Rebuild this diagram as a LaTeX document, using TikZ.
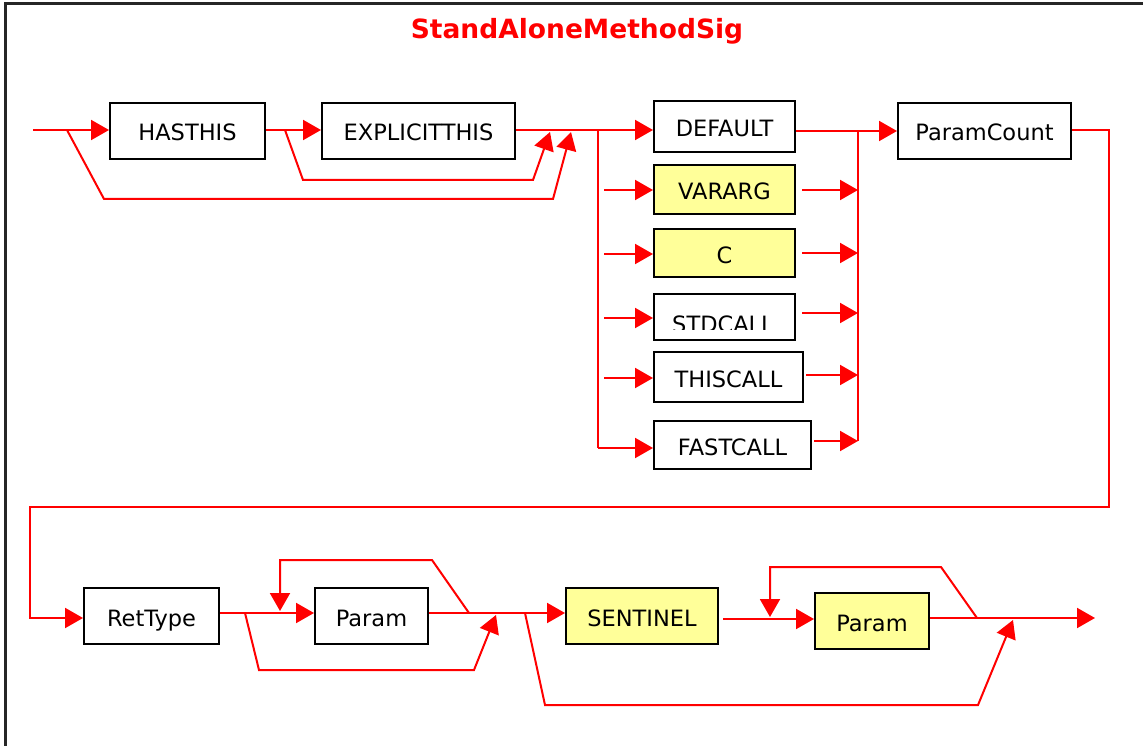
\documentclass[tikz,border=0pt]{standalone}
\usepackage{fontspec}
\setmainfont{DejaVu Sans}
\usetikzlibrary{arrows.meta}
\definecolor{symfill}{RGB}{255,255,153}
\tikzset{
  sym/.style={draw,line width=2pt,inner sep=0pt,text height=20pt,text depth=0pt,
    font=\fontsize{22.5}{27}\selectfont},
  opt/.style={sym,fill=symfill},
  flow/.style={draw=red,line width=2pt,line join=miter},
  tip/.style={-{Triangle[length=18pt,width=20pt]}},
}
\begin{document}
\begin{tikzpicture}[x=1pt,y=-1pt]
  \useasboundingbox (0,0) rectangle (1143,746);
  \draw[line width=3pt,black!85] (5,746) -- (5,4) -- (1143,4);
  \node[text=red,font=\bfseries\fontsize{26.5}{32}\selectfont] (title) at (577,31) {StandAloneMethodSig};

  \node[sym,minimum width=155pt,minimum height=56pt] (hasthis) at (187.5,131) {HASTHIS};
  \node[sym,minimum width=193pt,minimum height=56pt] (explicit) at (418.5,131) {EXPLICITTHIS};
  \node[sym,minimum width=141pt,minimum height=51pt] (default) at (724.5,126.5) {DEFAULT};
  \node[opt,minimum width=141pt,minimum height=49pt] (vararg) at (724.5,189.5) {VARARG};
  \node[opt,minimum width=141pt,minimum height=48pt] (cconv) at (724.5,253) {C};
  \node[sym,minimum width=141pt,minimum height=46pt] (stdcall) at (724.5,317) {};
  \begin{scope}
    \clip (stdcall.north west) rectangle ([yshift=12pt]stdcall.south east);
    \node[font=\fontsize{22.5}{27}\selectfont] (stdtext) at (723,324) {STDCALL};
  \end{scope}
  \node[sym,minimum width=149pt,minimum height=50pt] (thiscall) at (728.5,377) {THISCALL};
  \node[sym,minimum width=157pt,minimum height=48pt] (fastcall) at (732.5,445) {FASTCALL};
  \node[sym,minimum width=173pt,minimum height=56pt] (pcount) at (984.5,131) {ParamCount};

  \node[sym,minimum width=135pt,minimum height=56pt] (rettype) at (151.5,616) {RetType};
  \node[sym,minimum width=113pt,minimum height=56pt] (param) at (371.5,616) {Param};
  \node[opt,minimum width=152pt,minimum height=56pt] (sentinel) at (642,616) {SENTINEL};
  \node[opt,minimum width=114pt,minimum height=56pt] (vparam) at (872,621) {Param};

  \coordinate (in) at (33,130);
  \coordinate (skip1) at (67,130);
  \coordinate (skip2) at (285,130);
  \coordinate (join1) at (550,132);
  \coordinate (join2) at (571,132);
  \coordinate (split) at (598,130);
  \coordinate (splitend) at (598,448);
  \coordinate (merge) at (858,131);
  \coordinate (mergeend) at (858,441);
  \coordinate (down) at (1109,507);
  \coordinate (back) at (30,507);

  \draw[flow,tip] (in) -- (in -| hasthis.west);
  \draw[flow,tip] (in -| hasthis.east) -- (in -| explicit.west);
  \draw[flow,tip] (skip2) -- ++(18,50) -- ++(230,0) -- (join1);
  \draw[flow,tip] (skip1) -- ++(37,69) -- ++(449,0) -- (join2);
  \draw[flow,tip] (in -| explicit.east) -- (split) -- (split -| default.west);
  \draw[flow] (split) -- (splitend);
  \draw[flow,tip] (604,190) coordinate (v1) -- (v1 -| vararg.west);
  \draw[flow,tip] (604,254) coordinate (c1) -- (c1 -| cconv.west);
  \draw[flow,tip] (604,318) coordinate (s1) -- (s1 -| stdcall.west);
  \draw[flow,tip] (604,378) coordinate (t1) -- (t1 -| thiscall.west);
  \draw[flow,tip] (splitend) -- (splitend -| fastcall.west);

  \draw[flow,tip] ([xshift=6pt]vararg.east |- 0,190) coordinate (v2) -- (merge |- v2);
  \draw[flow,tip] ([xshift=6pt]cconv.east |- 0,253) coordinate (c2) -- (merge |- c2);
  \draw[flow,tip] ([xshift=6pt]stdcall.east |- 0,313) coordinate (s2) -- (merge |- s2);
  \draw[flow,tip] ([xshift=2pt]thiscall.east |- 0,375) coordinate (t2) -- (merge |- t2);
  \draw[flow,tip] ([xshift=2pt]fastcall.east |- mergeend) -- (mergeend);
  \draw[flow] (merge) -- (mergeend);
  \draw[flow,tip] (merge -| default.east) -- (merge -| pcount.west);

  \draw[flow,tip] (pcount.east |- in) -- (down |- in) -- (down) -- (back)
    -- (back |- 0,618) -- (rettype.west |- 0,618);

  \coordinate (loop1) at (280,611);
  \coordinate (rep1) at (469,613);
  \coordinate (skip3) at (245,613);
  \coordinate (join3) at (496,615);
  \coordinate (skip4) at (525,613);
  \coordinate (loop2) at (770,617);
  \coordinate (rep2) at (977,618);
  \coordinate (join4) at (1013,620);
  \coordinate (out) at (1095,618);

  \draw[flow,tip] (rettype.east |- rep1) -- (param.west |- rep1);
  \draw[flow,tip] (rep1) -- ++(-37,-53) -- ++(-152,0) -- (loop1);
  \draw[flow,tip] (skip3) -- ++(14,57) -- ++(215,0) -- (join3);
  \draw[flow,tip] (param.east |- rep1) -- (sentinel.west |- rep1);
  \draw[flow,tip] ([xshift=4pt]sentinel.east |- 0,619) coordinate (sn) -- (vparam.west |- sn);
  \draw[flow,tip] (rep2) -- ++(-36,-51) -- ++(-171,0) -- (loop2);
  \draw[flow,tip] (skip4) -- ++(20,92) -- ++(433,0) -- (join4);
  \draw[flow,tip] (vparam.east |- out) -- (out);
\end{tikzpicture}
\end{document}
